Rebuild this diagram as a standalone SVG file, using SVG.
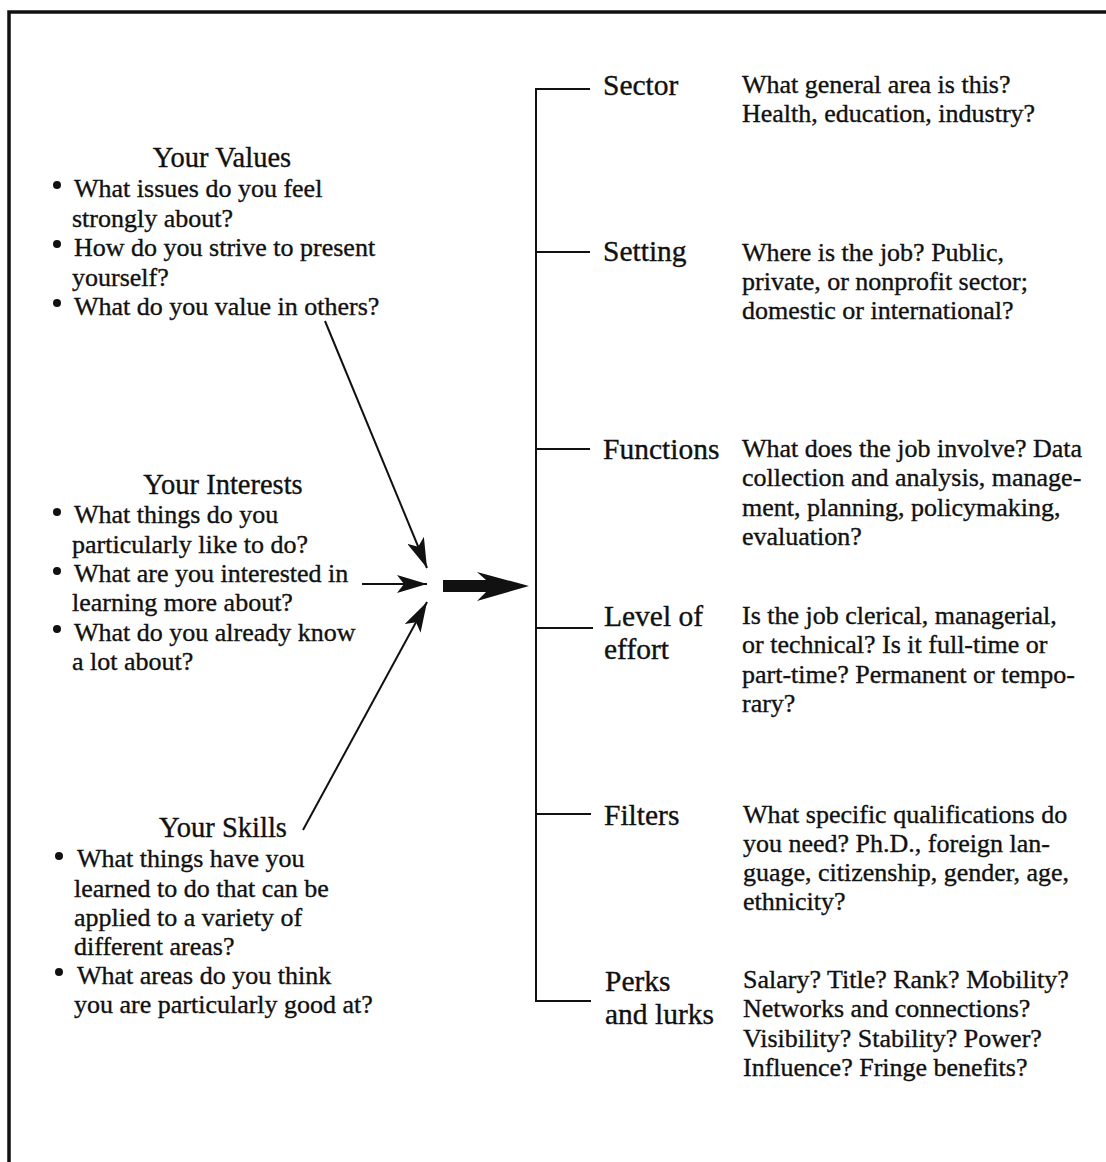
<svg xmlns="http://www.w3.org/2000/svg" width="1106" height="1162" viewBox="0 0 1106 1162">
<defs>
<style>
text{font-family:"Liberation Serif","Times New Roman",serif;fill:#111;stroke:#111;stroke-width:0.35px}
.title{font-size:28.5px;text-anchor:middle}
.body{font-size:26px}
.label{font-size:29.5px}
.ln{stroke:#111;stroke-width:2;fill:none}
.bul{fill:#111}
</style>
<marker id="ah" viewBox="0 0 30 18" refX="30" refY="9" markerWidth="30" markerHeight="18" markerUnits="userSpaceOnUse" orient="auto">
<path d="M0,0 L30,9 L0,18 L7,9 Z" fill="#111"/>
</marker>
</defs>
<rect width="1106" height="1162" fill="#fff"/>
<rect id="frame" x="9" y="12" width="1200" height="1152" fill="none" stroke="#111" stroke-width="3.5"/>

<g id="node-values">
<text class="title" x="222" y="167">Your Values</text>
<circle class="bul" cx="57" cy="185" r="4"/>
<circle class="bul" cx="57" cy="244" r="4"/>
<circle class="bul" cx="57" cy="303" r="4"/>
<text class="body"><tspan x="74" y="197">What issues do you feel</tspan><tspan x="72" y="226.5">strongly about?</tspan><tspan x="74" y="256">How do you strive to present</tspan><tspan x="72" y="285.5">yourself?</tspan><tspan x="74" y="315">What do you value in others?</tspan></text>
</g>

<g id="node-interests">
<text class="title" x="223" y="494">Your Interests</text>
<circle class="bul" cx="57" cy="512" r="4"/>
<circle class="bul" cx="57" cy="571" r="4"/>
<circle class="bul" cx="57" cy="629" r="4"/>
<text class="body"><tspan x="74" y="523">What things do you</tspan><tspan x="72" y="552.5">particularly like to do?</tspan><tspan x="74" y="582">What are you interested in</tspan><tspan x="72" y="611">learning more about?</tspan><tspan x="74" y="640.5">What do you already know</tspan><tspan x="72" y="670">a lot about?</tspan></text>
</g>

<g id="node-skills">
<text class="title" x="223" y="837">Your Skills</text>
<circle class="bul" cx="59" cy="856" r="4"/>
<circle class="bul" cx="59" cy="972" r="4"/>
<text class="body"><tspan x="77" y="867">What things have you</tspan><tspan x="74" y="896.5">learned to do that can be</tspan><tspan x="74" y="925.5">applied to a variety of</tspan><tspan x="74" y="954.5">different areas?</tspan><tspan x="77" y="983.5">What areas do you think</tspan><tspan x="74" y="1013">you are particularly good at?</tspan></text>
</g>

<g id="node-sector">
<text class="label" x="603" y="95">Sector</text>
<text class="body"><tspan x="742" y="93">What general area is this?</tspan><tspan x="742" y="122">Health, education, industry?</tspan></text>
</g>

<g id="node-setting">
<text class="label" x="603" y="261">Setting</text>
<text class="body"><tspan x="742" y="261">Where is the job? Public,</tspan><tspan x="742" y="290">private, or nonprofit sector;</tspan><tspan x="742" y="319">domestic or international?</tspan></text>
</g>

<g id="node-functions">
<text class="label" x="603" y="459">Functions</text>
<text class="body"><tspan x="742" y="457">What does the job involve? Data</tspan><tspan x="742" y="486">collection and analysis, manage-</tspan><tspan x="742" y="516">ment, planning, policymaking,</tspan><tspan x="742" y="545">evaluation?</tspan></text>
</g>

<g id="node-level">
<text class="label"><tspan x="604" y="626">Level of</tspan><tspan x="604" y="659">effort</tspan></text>
<text class="body"><tspan x="742" y="624">Is the job clerical, managerial,</tspan><tspan x="742" y="653">or technical? Is it full-time or</tspan><tspan x="742" y="683">part-time? Permanent or tempo-</tspan><tspan x="742" y="712">rary?</tspan></text>
</g>

<g id="node-filters">
<text class="label" x="604" y="825">Filters</text>
<text class="body"><tspan x="743" y="823">What specific qualifications do</tspan><tspan x="743" y="852">you need? Ph.D., foreign lan-</tspan><tspan x="743" y="881">guage, citizenship, gender, age,</tspan><tspan x="743" y="910">ethnicity?</tspan></text>
</g>

<g id="node-perks">
<text class="label"><tspan x="605" y="991">Perks</tspan><tspan x="605" y="1024">and lurks</tspan></text>
<text class="body"><tspan x="743" y="988">Salary? Title? Rank? Mobility?</tspan><tspan x="743" y="1017">Networks and connections?</tspan><tspan x="743" y="1047">Visibility? Stability? Power?</tspan><tspan x="743" y="1076">Influence? Fringe benefits?</tspan></text>
</g>

<g id="connectors">
<path class="ln" d="M590,89 H536 V1001 H591"/>
<path class="ln" d="M536,252 H590 M536,449 H590 M536,628 H593 M536,814 H591"/>
<path class="ln" d="M325,321 L427,568" marker-end="url(#ah)"/>
<path class="ln" d="M362,584 L427,584" marker-end="url(#ah)"/>
<path class="ln" d="M303,830 L427,602" marker-end="url(#ah)"/>
<polygon points="443,580 486,580 477,572 529,586 477,601 486,592 443,592" fill="#111"/>
</g>
</svg>
